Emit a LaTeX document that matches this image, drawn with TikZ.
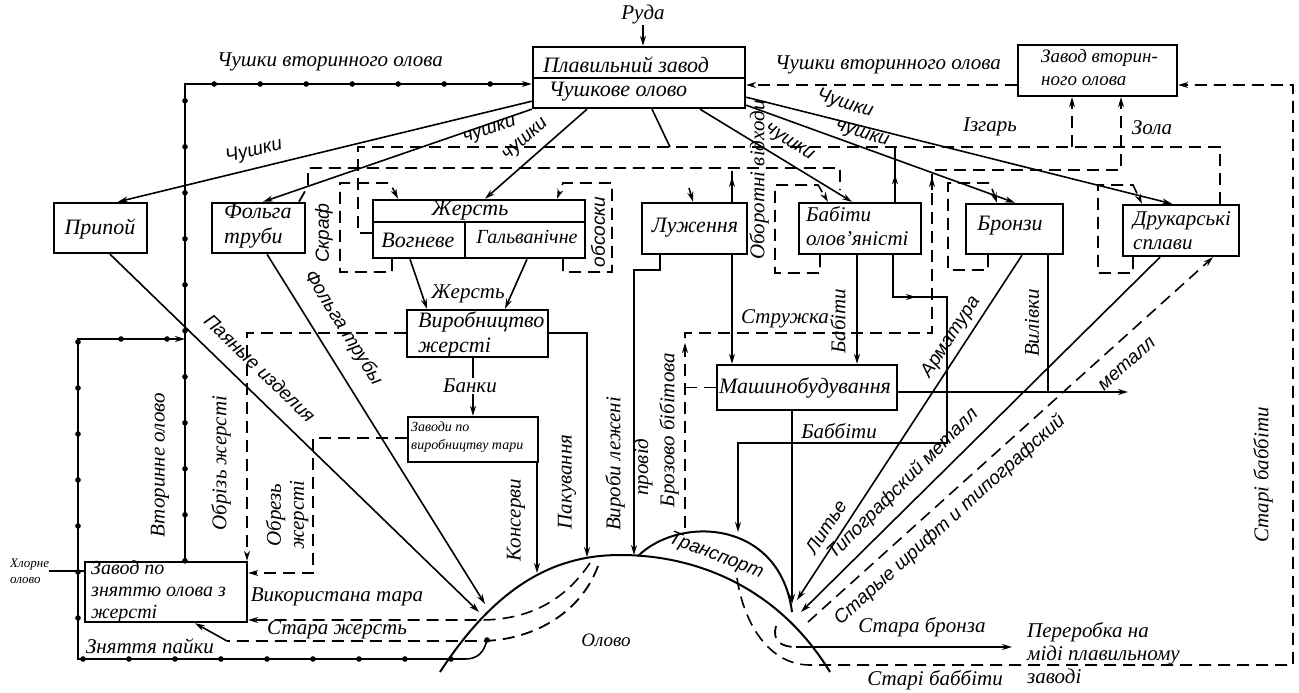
\documentclass[tikz,border=0pt]{standalone}
\usepackage{fontspec}
\setmainfont{Liberation Serif}
\newfontfamily\draftfont{Liberation Sans}
\usetikzlibrary{arrows.meta,decorations.markings}
\begin{document}
\begin{tikzpicture}[x=1pt,y=-1pt,
  box/.style={draw, line width=2.4pt, rectangle, inner sep=0pt},
  ln/.style={line width=1.6pt},
  arr/.style={ln, -{Stealth[length=10pt,width=6pt]}},
  dsh/.style={line width=1.8pt, dash pattern=on 12pt off 7pt},
  dotln/.style={line width=1.6pt, postaction={decorate, decoration={markings, mark=between positions 0 and 1 step 46pt with {\fill (0,0) circle (2.8pt);}}}},
  midarr/.style={postaction={decorate, decoration={markings, mark=at position #1 with {\arrow{Stealth[length=10pt,width=6pt]}}}}},
  lbl/.style={font=\fontsize{21}{23}\selectfont\itshape, inner sep=1pt},
  btxt/.style={font=\fontsize{22}{25}\selectfont\itshape, inner sep=0pt, align=left},
  dft/.style={font=\fontsize{19}{21}\selectfont\draftfont\itshape, inner sep=1pt},
]
\useasboundingbox (0,0) rectangle (1299,693);
\fill[white] (0,0) rectangle (1299,693);

% ---------- boxes ----------
\node[box, minimum width=212pt, minimum height=61pt] (plav) at (639,77.5) {};
\draw[line width=2.2pt] (plav.west |- 0,78) -- (plav.east |- 0,78);
\node[btxt] (plavA) at (626,65) {Плавильний завод};
\node[btxt] (plavB) at (618,92) {Чушкове олово};

\node[box, minimum width=159pt, minimum height=51pt] (zavv) at (1097.5,70.5) {};
\node[btxt, font=\fontsize{19}{23}\selectfont\itshape, anchor=west] (zavvT) at (1041,68) {Завод вторин-\\ного олова};

\node[box, minimum width=93pt, minimum height=50pt] (pripoy) at (100.5,228) {};
\node[btxt] (pripoyT) at (100,229) {Припой};

\node[box, minimum width=93pt, minimum height=50pt] (folga) at (258.5,228) {};
\node[btxt, anchor=west] (folgaT) at (224,226) {Фольга\\труби};

\node[box, minimum width=212pt, minimum height=58pt] (zhers) at (479,229) {};
\draw[line width=2.2pt] (zhers.west |- 0,222) -- (zhers.east |- 0,222);
\draw[line width=2.2pt] (465,222) -- (465,0 |- zhers.south);
\node[btxt] (zhersA) at (470,211) {Жерсть};
\node[btxt] (zhersB) at (418,240) {Вогневе};
\node[btxt, font=\fontsize{20}{23}\selectfont\itshape] (zhersC) at (527,237) {Гальванічне};

\node[box, minimum width=105pt, minimum height=51pt] (luzh) at (694.5,228.5) {};
\node[btxt] (luzhT) at (695,228) {Луження};

\node[box, minimum width=122pt, minimum height=51pt] (babit) at (860,228.5) {};
\node[btxt, font=\fontsize{21}{24}\selectfont\itshape, anchor=west] (babitT) at (806,226) {Бабіти\\олов'яністі};

\node[box, minimum width=97pt, minimum height=50pt] (bronz) at (1014.5,229) {};
\node[btxt] (bronzT) at (1010,226) {Бронзи};

\node[box, minimum width=116pt, minimum height=51pt] (druk) at (1181,230.5) {};
\node[btxt, font=\fontsize{21}{24}\selectfont\itshape, anchor=west] (drukT) at (1133,231) {Друкарські\\сплави};

\node[box, minimum width=141pt, minimum height=47pt] (vyrob) at (477.5,333.5) {};
\node[btxt, anchor=west] (vyrobT) at (418,334) {Виробництво\\жерсті};

\node[box, minimum width=130pt, minimum height=45pt] (tara) at (473,439.5) {};
\node[btxt, font=\fontsize{14}{18}\selectfont\itshape, anchor=west] (taraT) at (411,437) {Заводи по\\виробництву тари};

\node[box, minimum width=180pt, minimum height=45pt] (mash) at (807,387.5) {};
\node[btxt] (mashT) at (805,388) {Машинобудування};

\node[box, minimum width=162pt, minimum height=60pt] (znyat) at (166,592) {};
\node[btxt, font=\fontsize{20}{22}\selectfont\itshape, anchor=west] (znyatT) at (91,592) {Завод по\\зняттю олова з\\жерсті};

% ---------- Руда ----------
\node[lbl] (ruda) at (643,14) {Руда};
\draw[arr] (ruda.south) -- (ruda.south |- plav.north);

% ---------- secondary tin (dotted) ----------
\draw[dotln, arr] (185,0 |- znyat.north) -- (185,84) -- (plav.west |- 0,84);
\node[lbl] (l1) at (330,62) {Чушки вторинного олова};
\node[lbl, rotate=90] (l26) at (160,465) {Вторинне олово};
\draw[dotln, arr] (487,640) .. controls (484,652) and (478,659) .. (465,659) -- (78,659) -- (78,339) -- (185,339);
\node[lbl] (l2) at (150,646) {Зняття пайки};
\node[font=\fontsize{13}{16}\selectfont\itshape, align=left, inner sep=0pt, anchor=west] (hlor) at (10,571) {Хлорне\\олово};
\draw[line width=2.6pt] (hlor.east) -- (hlor.east -| znyat.west);

% ---------- secondary tin from plant ----------
\draw[dsh, arr] (zavv.west |- 0,85) -- (plav.east |- 0,85);
\node[lbl] (l3) at (888,65) {Чушки вторинного олова};

\draw[dsh, arr] (737,578) .. controls (744,625) and (770,665) .. (810,665) -- (1293,665) -- (1293,85) -- (zavv.east |- 0,85);
\node[lbl, rotate=90] (l4) at (1263,475) {Старі баббіти};
\node[lbl] (l5) at (935,680) {Старі баббіти};

% Ізгарь
\draw[dsh] (zhers.west |- 0,233) -- (358,233) -- (358,147) -- (1220,147) -- (1220,0 |- druk.north);
\draw[dsh, arr] (1072,147) -- (1072,0 |- zavv.south);
\node[lbl] (l6) at (990,127) {Ізгарь};

% Зола / оборотні відходи
\draw[dsh, arr] (685,528) -- (685,333) -- (932,333) -- (932,170) -- (1121,170) -- (1121,0 |- zavv.south);
\draw[ln, -{Stealth[length=10pt,width=6pt]}] (685,356) -- (685,343);
\draw[ln, -{Stealth[length=10pt,width=6pt]}] (932,190) -- (932,177);
\draw[dsh] (mash.west) -- (685,0 |- mash.west);
\node[lbl] (l7) at (1152,128) {Зола};
\node[lbl, rotate=90] (l8) at (759,180) {Оборотні відходи};
\node[lbl] (l9) at (785,319) {Стружка};

% scrap line (y=168)
\draw[dsh] (299,0 |- folga.north) -- (308,186) -- (308,168) -- (840,168) -- (840,190);
\draw[dsh] (732,0 |- luzh.north) -- (732,168);
\draw[ln, -{Stealth[length=10pt,width=6pt]}] (732,190) -- (732,177);
\draw[ln, midarr=0.5] (895,0 |- babit.north) -- (895,147);

% ---------- pigs from smelter ----------
\draw[arr] ([yshift=8pt]plav.south west) -- (118,0 |- pripoy.north);
\draw[arr] (plav.south west) -- (263,0 |- folga.north);
\draw[arr] (587,0 |- plav.south) -- (485,0 |- zhers.north);
\draw[ln] (652,0 |- plav.south) -- (670,147);
\coordinate (lz) at (689,188);
\draw[arr] (lz) -- (693,0 |- luzh.north);
\draw[arr] (700,0 |- plav.south) -- (852,0 |- babit.north);
\draw[arr] ([yshift=12pt]plav.south east) -- (1172,0 |- druk.north);
\draw[arr] ([yshift=4pt]plav.south east) -- (1015,0 |- bronz.north);
\node[dft] at (254,151) [rotate=14] (c1) {Чушки};
\node[dft, rotate=19] (c2) at (490,131) {чушки};
\node[dft, rotate=42] (c3) at (526,140) {чушки};
\node[dft, rotate=-33] (c4) at (789,143) {чушки};
\node[dft, rotate=-17] (c5) at (845,104) {Чушки};
\node[dft, rotate=-17] (c6) at (862,135) {чушки};

% ---------- return loops ----------
\draw[dsh, arr] (392,0 |- zhers.south) -- (392,272) -- (340,272) -- (340,183) -- (390,183) -- (398,0 |- zhers.north);
\node[dft, rotate=90] (s1) at (324,233) {Скраф};
\draw[dsh, arr] (563,0 |- zhers.south) -- (563,272) -- (612,272) -- (612,183) -- (563,183) -- (557,0 |- zhers.north);
\node[dft, rotate=90] (s2) at (598,232) {обсоски};
\draw[dsh, arr] (820,0 |- babit.south) -- (820,273) -- (775,273) -- (775,185) -- (818,185) -- (828,0 |- babit.north);
\draw[dsh, arr] (988,0 |- bronz.south) -- (988,270) -- (948,270) -- (948,183) -- (990,183) -- (997,0 |- bronz.north);
\draw[dsh, arr] (1133,0 |- druk.south) -- (1133,273) -- (1098,273) -- (1098,185) -- (1133,185) -- (1142,0 |- druk.north);

% ---------- tinplate ----------
\draw[arr] (410,0 |- zhers.south) -- (427,0 |- vyrob.north);
\draw[arr] (527,0 |- zhers.south) -- (505,0 |- vyrob.north);
\node[lbl] (l32) at (468,294) {Жерсть};
\node[lbl] (l27) at (470,386) {Банки};
\draw[ln] (vyrob.south -| tara.north) -- (l27.north -| tara.north);
\draw[arr] (l27.south -| tara.north) -- (tara.north);
\draw[arr] (vyrob.east |- 0,333) -- (587,333) -- (587,557);
\node[lbl, rotate=90] (l22) at (567,482) {Пакування};
\draw[arr] (537,0 |- tara.south) -- (537,573);
\node[lbl, rotate=90] (l23) at (516,520) {Консерви};
\draw[dsh, arr] (vyrob.west |- 0,333) -- (247,333) -- (247,0 |- znyat.north);
\node[lbl, rotate=90] (l24) at (221,463) {Обрізь жерсті};
\draw[dsh, arr] (tara.west |- 0,438) -- (313,438) -- (313,573) -- (znyat.east |- 0,573);
\node[lbl, rotate=90, align=center] (l25) at (287,515) {Обрезь\\жерсті};

% ---------- solder, foil ----------
\draw[arr] (110,0 |- pripoy.south) -- (479,612);
\draw[arr] (267,0 |- folga.south) -- (485,604);
\node[dft, rotate=-44] (l20) at (260,368) {Паяные изделия};
\node[dft, rotate=-58] (l21) at (343,328) {Фольга трубы};

% ---------- used tinplate ----------
\draw[dsh, arr] (590,563) .. controls (565,600) and (530,620) .. (480,620) -- (znyat.east |- 0,620);
\node[lbl] (l28) at (337,597) {Використана тара};
\draw[dsh] (598,566) .. controls (580,615) and (530,641) .. (480,641) -- (227,641);
\coordinate (sz) at (227,641);
\draw[arr] (sz) -- (195,0 |- znyat.south);
\node[lbl] (l29) at (337,630) {Стара жерсть};

% ---------- tinning ----------
\draw[arr] (660,0 |- luzh.south) -- (660,270) -- (634,270) -- (634,555);
\draw[arr] (732,0 |- luzh.south) -- (732,0 |- mash.north);
\node[lbl, rotate=90] (l33) at (615,464) {Вироби лежені};
\node[lbl, rotate=90] (l34) at (643,467) {провід};
\node[lbl, rotate=90] (l35) at (669,430) {Брозово бібітова};

% ---------- babbits ----------
\draw[arr] (857,0 |- babit.south) -- (857,0 |- mash.north);
\node[lbl, rotate=90] (l10) at (838,321) {Бабіти};
\draw[arr, midarr=0.12] (893,0 |- babit.south) -- (893,297) -- (947,297) -- (947,443) -- (738,443) -- (738,532);
\node[lbl] (l11) at (839,431) {Баббіти};
\draw[arr] (792,0 |- mash.south) -- (792,604);
\draw[arr] (mash.east |- 0,392) -- (1128,392);
\draw[ln] (1048,0 |- bronz.south) -- (1048,392);
\node[lbl, rotate=90] (l12) at (1032,323) {Вилівки};

% ---------- bronze, type metal ----------
\draw[arr] (1022,0 |- bronz.south) -- (797,600);
\node[dft, rotate=57] (l13) at (951,337) {Арматура};
\node[dft, rotate=57] (l14) at (826,527) {Литье};
\draw[arr] (1160,0 |- druk.south) -- (801,612);
\node[dft, rotate=45] (l15) at (903,484) {Типографский металл};
\draw[dsh, arr] (808,622) -- (1213,0 |- druk.south);
\node[dft, rotate=42] (l16) at (950,520) {Старые шрифт и типографский};
\node[dft, rotate=42] (l17) at (1127,364) {металл};

% ---------- bottom ----------
\draw[dsh] (776,626) .. controls (772,640) and (780,647) .. (796,647);
\draw[arr] (796,647) -- (1012,647);
\node[lbl] (l18) at (922,627) {Стара бронза};
\node[lbl, align=left, anchor=north west, inner sep=0pt] (l19) at (1027,622) {Переробка на\\міді плавильному\\заводі};

% ---------- tin mound ----------
\draw[line width=2pt] (440,672) .. controls (500,580) and (560,555) .. (620,555) .. controls (700,555) and (780,590) .. (830,672);
\draw[line width=2pt] (638,556) .. controls (680,515) and (780,520) .. (792,612);
\node[dft, rotate=-21] (l30) at (716,556) {Транспорт};
\node[lbl, font=\fontsize{19}{21}\selectfont\itshape] (l31) at (606,640) {Олово};
\end{tikzpicture}
\end{document}
